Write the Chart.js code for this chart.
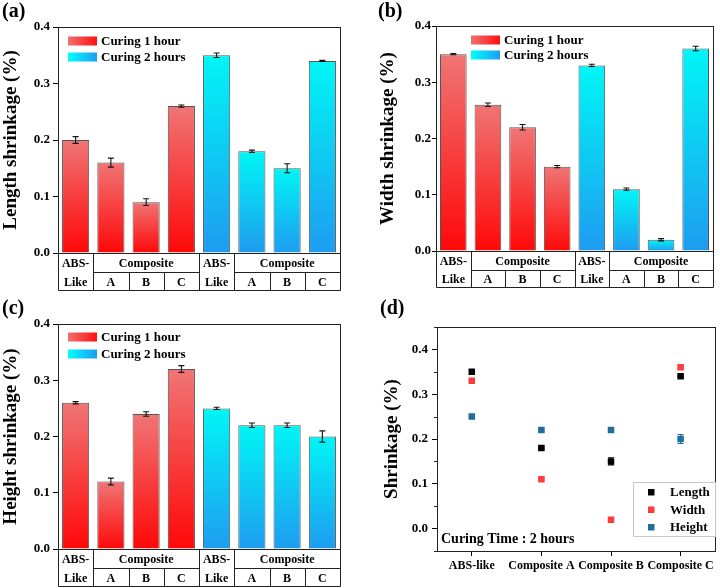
<!DOCTYPE html>
<html>
<head>
<meta charset="utf-8">
<script src="https://cdn.jsdelivr.net/npm/chart.js@4.4.1/dist/chart.umd.min.js"></script>
<style>
  body { margin: 0; background: #fff; }
  #wrap { position: relative; width: 720px; height: 588px; }
  canvas { position: absolute; }
</style>
</head>
<body>
<div id="wrap">
  <canvas id="pa" width="360" height="294" style="left:0;top:0"></canvas>
  <canvas id="pb" width="360" height="294" style="left:360px;top:0"></canvas>
  <canvas id="pc" width="360" height="294" style="left:0;top:294px"></canvas>
  <canvas id="pd" width="360" height="294" style="left:360px;top:294px"></canvas>
</div>
<script>
// Data
const barCategories = ['ABS-Like', 'A', 'B', 'C', 'ABS-Like', 'A', 'B', 'C'];
const seriesNames = ['Curing 1 hour', 'Curing 2 hours'];
const lengthShrink = [0.20, 0.16, 0.09, 0.26, 0.35, 0.18, 0.15, 0.34];
const lengthErr = [0.006, 0.008, 0.006, 0.002, 0.004, 0.002, 0.008, 0.001];
const widthShrink = [0.35, 0.26, 0.22, 0.15, 0.33, 0.11, 0.02, 0.36];
const widthErr = [0.001, 0.003, 0.005, 0.002, 0.002, 0.002, 0.002, 0.004];
const heightShrink = [0.26, 0.12, 0.24, 0.32, 0.25, 0.22, 0.22, 0.20];
const heightErr = [0.002, 0.006, 0.004, 0.006, 0.002, 0.004, 0.004, 0.010];
const barTicks = [0, 0.1, 0.2, 0.3, 0.4];

const materials = ['ABS-like', 'Composite A', 'Composite B', 'Composite C'];
const length2h = [0.35, 0.18, 0.15, 0.34];
const length2hErr = [0.004, 0.002, 0.008, 0.001];
const width2h = [0.33, 0.11, 0.02, 0.36];
const width2hErr = [0.002, 0.002, 0.002, 0.004];
const height2h = [0.25, 0.22, 0.22, 0.20];
const height2hErr = [0.002, 0.004, 0.004, 0.010];
const dTicks = [0, 0.1, 0.2, 0.3, 0.4];
const dMinorTicks = [-0.05, 0.05, 0.15, 0.25, 0.35, 0.45];

const SERIF = '"Liberation Serif", "Times New Roman", serif';
const font = (size) => 'bold ' + size + 'px ' + SERIF;

// Helpers
const drawErr = (ctx, x, yScale, v, e, cap) => {
  const y1 = yScale.getPixelForValue(v - e);
  const y2 = yScale.getPixelForValue(v + e);
  ctx.beginPath();
  ctx.moveTo(x, y1); ctx.lineTo(x, y2);
  ctx.moveTo(x - cap, y1); ctx.lineTo(x + cap, y1);
  ctx.moveTo(x - cap, y2); ctx.lineTo(x + cap, y2);
  ctx.stroke();
};

const drawLetter = (ctx, text, x, y) => {
  ctx.save();
  ctx.fillStyle = '#000';
  ctx.font = font(20);
  ctx.textAlign = 'left';
  ctx.textBaseline = 'middle';
  ctx.fillText(text, x, y);
  ctx.restore();
};

const barFill = (c) => {
  const chart = c.chart;
  const red = c.dataIndex < 4;
  if (!chart.chartArea || !chart.scales.y || c.raw == null) return red ? '#f44' : '#0cf';
  const y = chart.scales.y;
  const g = chart.ctx.createLinearGradient(0, y.getPixelForValue(c.raw), 0, y.getPixelForValue(0));
  if (red) {
    g.addColorStop(0, '#f07575');
    g.addColorStop(1, '#ff0808');
  } else {
    g.addColorStop(0, '#00f6f6');
    g.addColorStop(1, '#1e9cf0');
  }
  return g;
};

// Render bar panels
const renderBarPanel = (id, opt) => {
  const tablePlugin = {
    id: 'table',
    afterDatasetsDraw(chart) {
      const ctx = chart.ctx;
      const y = chart.scales.y;
      const meta = chart.getDatasetMeta(0);
      ctx.save();
      ctx.strokeStyle = '#111';
      ctx.lineWidth = 1.1;
      meta.data.forEach((bar, i) => drawErr(ctx, bar.x, y, opt.values[i], opt.errors[i], 3));
      ctx.restore();
    },
    afterDraw(chart) {
      const ctx = chart.ctx;
      const a = chart.chartArea;
      const w = (a.right - a.left) / barCategories.length;
      const bx = (i) => Math.round(a.left + i * w) + 0.5;
      const top = Math.round(a.bottom) + 0.5;
      const mid = top + opt.rows[0];
      const bot = mid + opt.rows[1];
      ctx.save();
      ctx.strokeStyle = '#222';
      ctx.lineWidth = 1;
      // frame
      ctx.strokeRect(Math.round(a.left) + 0.5, Math.round(a.top) + 0.5,
        Math.round(a.right - a.left), Math.round(a.bottom - a.top));
      ctx.beginPath();
      ctx.moveTo(bx(0), top); ctx.lineTo(bx(0), bot); ctx.lineTo(bx(8), bot); ctx.lineTo(bx(8), top);
      [1, 4, 5].forEach(i => { ctx.moveTo(bx(i), top); ctx.lineTo(bx(i), bot); });
      [2, 3, 6, 7].forEach(i => { ctx.moveTo(bx(i), mid); ctx.lineTo(bx(i), bot); });
      [[1, 4], [5, 8]].forEach(([s, e]) => { ctx.moveTo(bx(s), mid); ctx.lineTo(bx(e), mid); });
      ctx.stroke();
      ctx.fillStyle = '#000';
      ctx.font = font(12);
      ctx.textAlign = 'center';
      ctx.textBaseline = 'middle';
      const cx = (i) => a.left + (i + 0.5) * w;
      const r1 = (top + mid) / 2 + 1, r2 = (mid + bot) / 2 + 1;
      [0, 4].forEach(i => {
        const parts = barCategories[i].split('-');
        ctx.fillText(parts[0] + '-', cx(i), r1);
        ctx.fillText(parts[1], cx(i), r2);
      });
      [2, 6].forEach(i => ctx.fillText('Composite', cx(i), r1));
      [1, 2, 3, 5, 6, 7].forEach(i => ctx.fillText(barCategories[i], cx(i), r2));
      // legend
      const lx = a.left + opt.legend[0], ly = a.top + opt.legend[1];
      const boxes = [['#f07070', '#ff1010'], ['#00ffff', '#1e9cf0']];
      ctx.font = font(13);
      ctx.textAlign = 'left';
      boxes.forEach((cols, k) => {
        const yy = ly + k * opt.legend[2];
        const g = ctx.createLinearGradient(lx, 0, lx + 29, 0);
        g.addColorStop(0, cols[0]);
        g.addColorStop(1, cols[1]);
        ctx.fillStyle = g;
        ctx.fillRect(lx, yy - 4.5, 29, 9);
        ctx.fillStyle = '#000';
        ctx.fillText(seriesNames[k], lx + 33, yy + 1);
      });
      ctx.restore();
      drawLetter(ctx, opt.letter, opt.letterPos[0], opt.letterPos[1]);
    }
  };

  new Chart(document.getElementById(id), {
    type: 'bar',
    data: {
      labels: barCategories,
      datasets: [{
        data: opt.values,
        backgroundColor: barFill,
        borderColor: '#555',
        borderWidth: 1,
        barPercentage: 0.77,
        categoryPercentage: 1
      }]
    },
    options: {
      responsive: false,
      animation: false,
      events: [],
      layout: { padding: opt.padding },
      plugins: { legend: { display: false }, tooltip: { enabled: false } },
      scales: {
        x: { display: false },
        y: {
          min: 0,
          max: 0.4,
          afterBuildTicks: (s) => { s.ticks = barTicks.map(v => ({ value: v })); },
          afterFit: (s) => { s.width = opt.axisWidth; },
          ticks: {
            color: '#000',
            font: { family: SERIF, size: 13, weight: 'bold' },
            padding: opt.tickPad,
            callback: (v) => v.toFixed(1)
          },
          grid: { drawOnChartArea: false, tickLength: opt.tickLen, color: '#000' },
          border: { color: '#000', width: 1 },
          title: {
            display: true,
            text: opt.title,
            color: '#000',
            padding: 0,
            font: { family: SERIF, size: 19, weight: 'bold', lineHeight: 1.2 }
          }
        }
      }
    },
    plugins: [tablePlugin]
  });
};

renderBarPanel('pa', {
  letter: '(a)', letterPos: [2, 12], title: 'Length shrinkage (%)',
  values: lengthShrink, errors: lengthErr,
  padding: { left: 0, top: 27, right: 20, bottom: 41 },
  axisWidth: 58, tickLen: 5, tickPad: 3,
  rows: [19, 18], legend: [10, 14, 16]
});

renderBarPanel('pb', {
  letter: '(b)', letterPos: [18, 12], title: 'Width shrinkage (%)',
  values: widthShrink, errors: widthErr,
  padding: { left: 17, top: 26, right: 7, bottom: 43 },
  axisWidth: 59, tickLen: 4, tickPad: 1,
  rows: [19, 17], legend: [35, 14, 15]
});

renderBarPanel('pc', {
  letter: '(c)', letterPos: [2, 15], title: 'Height shrinkage (%)',
  values: heightShrink, errors: heightErr,
  padding: { left: 0, top: 30, right: 20, bottom: 39 },
  axisWidth: 58, tickLen: 5, tickPad: 3,
  rows: [19, 18], legend: [10, 13, 17]
});

// Render scatter panel
const pointSets = [
  { label: 'Height', data: height2h, err: height2hErr, color: '#1f6e9e' },
  { label: 'Width', data: width2h, err: width2hErr, color: '#ff3c3c' },
  { label: 'Length', data: length2h, err: length2hErr, color: '#000000' }
];

const scatterPlugin = {
  id: 'scatterExtras',
  afterDatasetsDraw(chart) {
    const ctx = chart.ctx;
    const y = chart.scales.y;
    ctx.save();
    ctx.lineWidth = 1.1;
    pointSets.forEach((s, k) => {
      ctx.strokeStyle = s.color;
      chart.getDatasetMeta(k).data.forEach((pt, i) => drawErr(ctx, pt.x, y, s.data[i], s.err[i], 3));
    });
    ctx.restore();
  },
  afterDraw(chart) {
    const ctx = chart.ctx;
    const a = chart.chartArea;
    const y = chart.scales.y;
    ctx.save();
    ctx.strokeStyle = '#222';
    ctx.lineWidth = 1;
    ctx.strokeRect(Math.round(a.left) + 0.5, Math.round(a.top) + 0.5,
      Math.round(a.right - a.left), Math.round(a.bottom - a.top));
    ctx.beginPath();
    dMinorTicks.forEach(v => {
      const py = Math.round(y.getPixelForValue(v)) + 0.5;
      ctx.moveTo(a.left, py); ctx.lineTo(a.left - 3, py);
    });
    ctx.stroke();
    // legend box
    ctx.fillStyle = '#fff';
    ctx.strokeStyle = '#c8c8c8';
    ctx.fillRect(273.5, 188.5, 82, 54);
    ctx.strokeRect(273.5, 188.5, 82, 54);
    ctx.font = font(13);
    ctx.textAlign = 'left';
    ctx.textBaseline = 'middle';
    [2, 1, 0].forEach((k, row) => {
      const yy = 198 + row * 17.5;
      ctx.fillStyle = pointSets[k].color;
      ctx.fillRect(288, yy - 3, 6.5, 6.5);
      ctx.fillStyle = '#000';
      ctx.fillText(pointSets[k].label, 310, yy + 1);
    });
    ctx.font = font(14);
    ctx.fillText('Curing Time : 2 hours', 81, 245);
    ctx.restore();
    drawLetter(ctx, '(d)', 20, 15);
  }
};

new Chart(document.getElementById('pd'), {
  type: 'line',
  data: {
    labels: materials,
    datasets: pointSets.map(s => ({
      label: s.label,
      data: s.data,
      showLine: false,
      pointStyle: 'rect',
      pointRadius: 4.6,
      pointBorderWidth: 0,
      pointBackgroundColor: s.color,
      pointBorderColor: s.color
    }))
  },
  options: {
    responsive: false,
    animation: false,
    events: [],
    layout: { padding: { left: 21, top: 33, right: 4, bottom: 0 } },
    plugins: { legend: { display: false }, tooltip: { enabled: false } },
    scales: {
      x: {
        offset: true,
        afterFit: (s) => { s.height = 37; },
        ticks: { color: '#000', font: { family: SERIF, size: 12, weight: 'bold' }, padding: 3, maxRotation: 0 },
        grid: { drawOnChartArea: false, offset: false, tickLength: 5, color: '#000' },
        border: { color: '#000' }
      },
      y: {
        min: -0.05,
        max: 0.45,
        afterBuildTicks: (s) => { s.ticks = dTicks.map(v => ({ value: v })); },
        afterFit: (s) => { s.width = 56; },
        ticks: {
          color: '#000',
          font: { family: SERIF, size: 13, weight: 'bold' },
          padding: 4,
          callback: (v) => v.toFixed(1)
        },
        grid: { drawOnChartArea: false, tickLength: 5, color: '#000' },
        border: { color: '#000' },
        title: {
          display: true,
          text: 'Shrinkage (%)',
          color: '#000',
          padding: 0,
          font: { family: SERIF, size: 19, weight: 'bold', lineHeight: 1.2 }
        }
      }
    }
  },
  plugins: [scatterPlugin]
});
</script>
</body>
</html>
